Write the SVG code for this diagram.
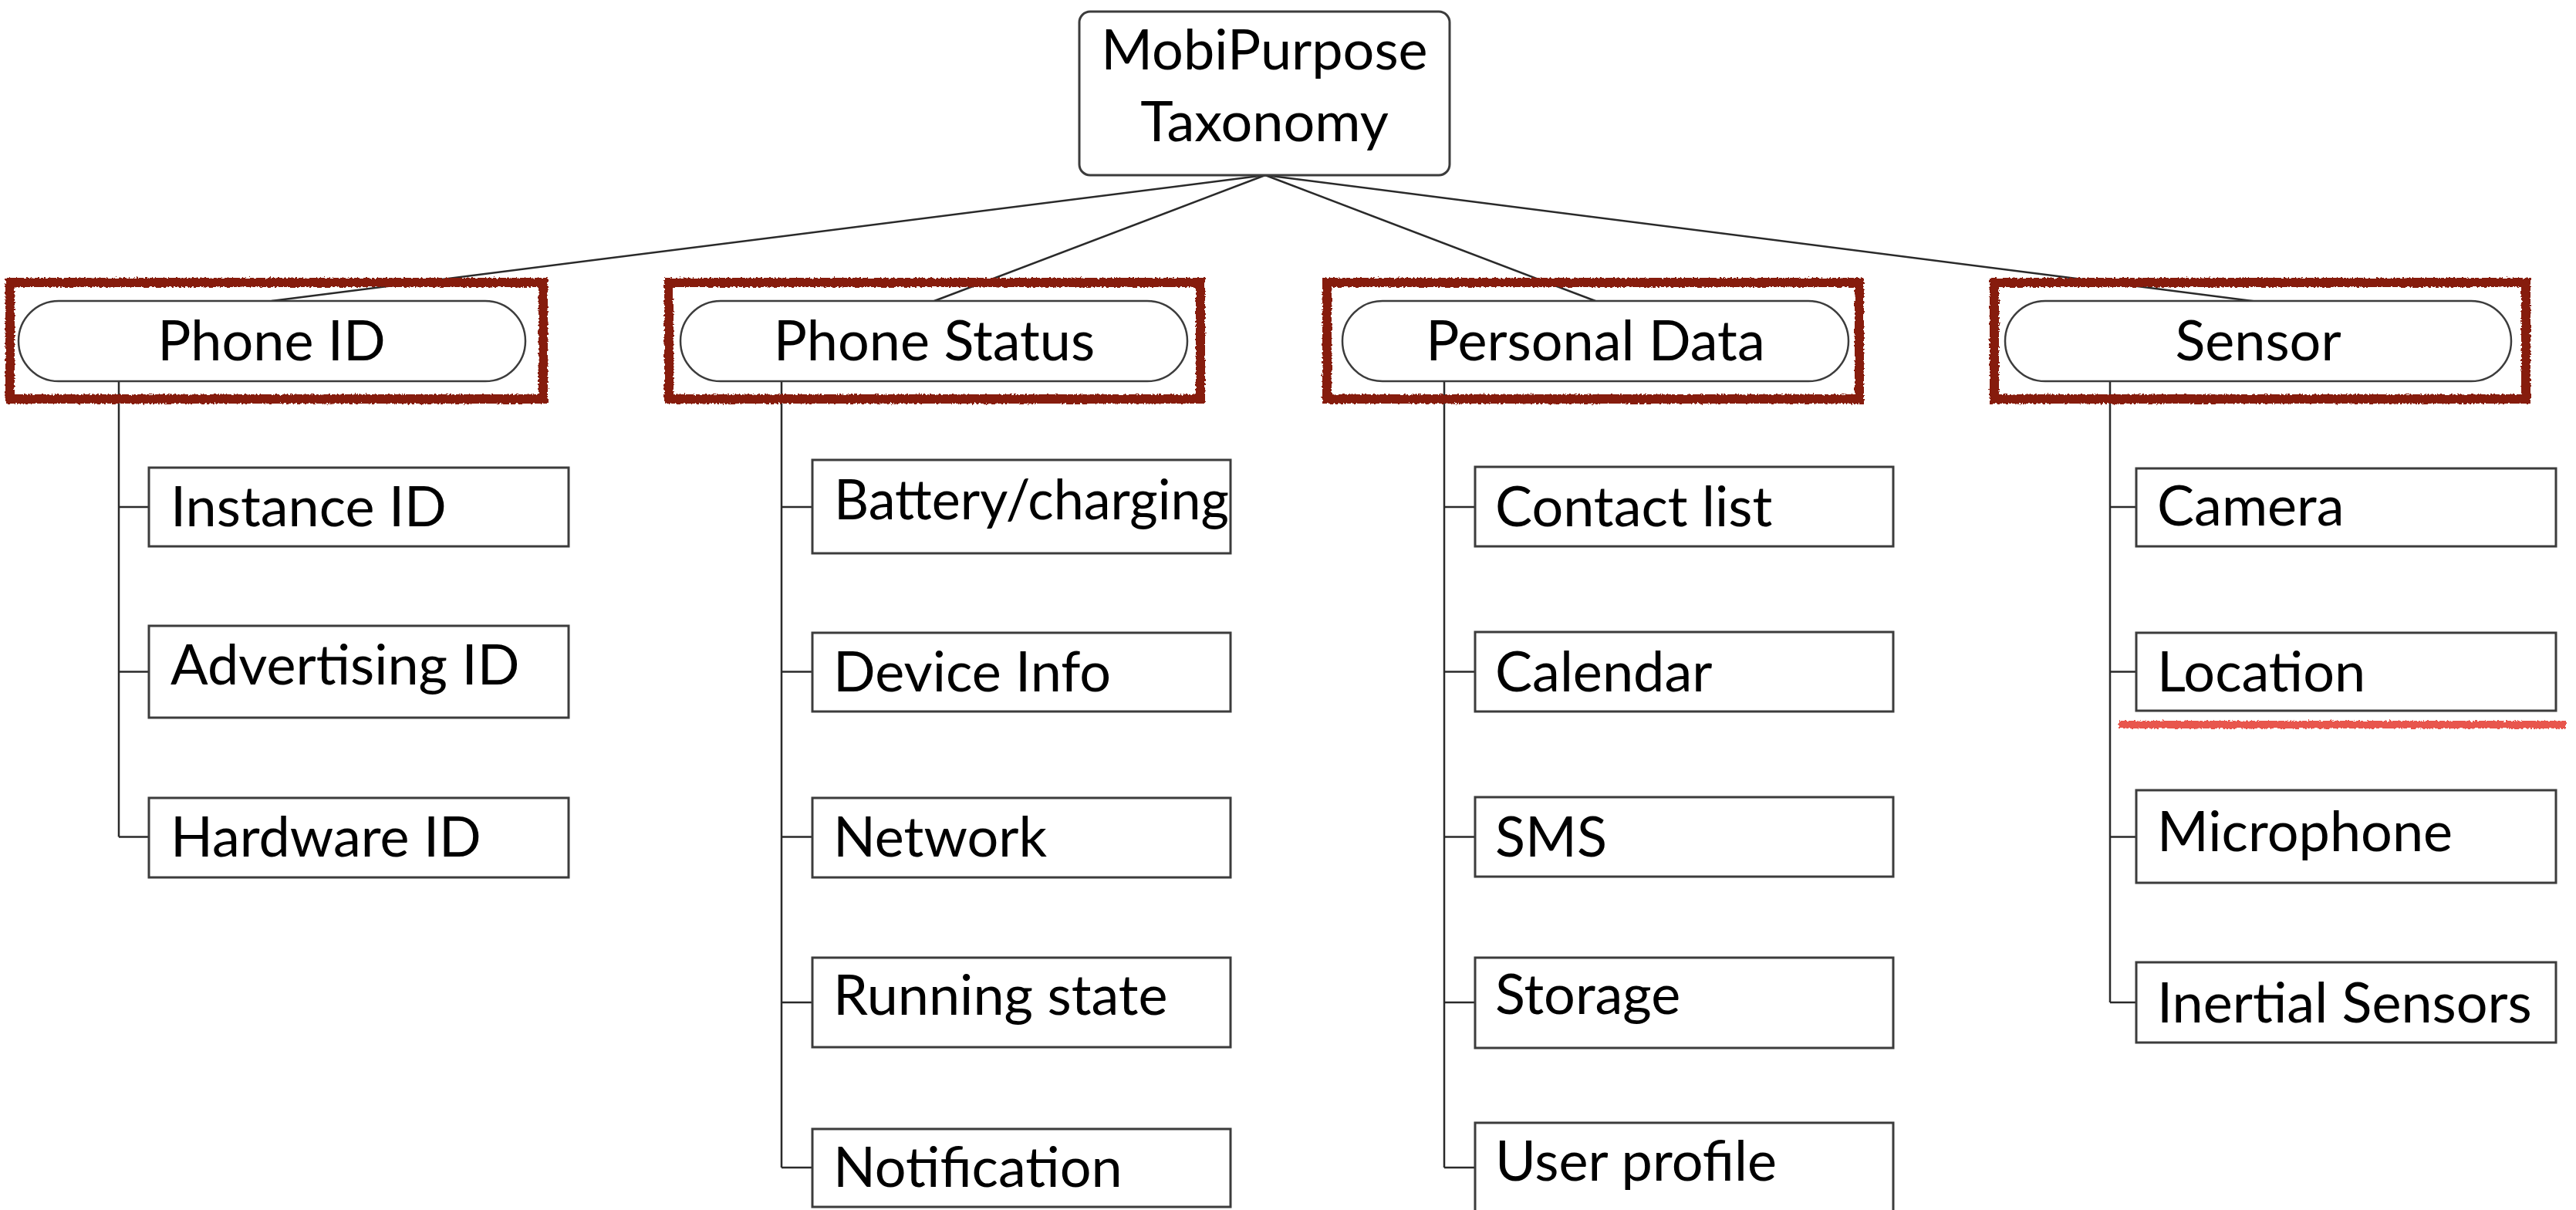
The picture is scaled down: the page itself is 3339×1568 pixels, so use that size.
<svg xmlns="http://www.w3.org/2000/svg" width="3339" height="1568" viewBox="0 0 3339 1568">
  <defs>
    <style>
      text { font-family: Lato, "Open Sans", "Liberation Sans", sans-serif; font-size: 72px; fill: #000; }
      .mid { text-anchor: middle; }
      .root { fill: #fff; stroke: #3c3c3c; stroke-width: 3; }
      .pill { fill: #fff; stroke: #3c3c3c; stroke-width: 2.5; }
      .leaf { fill: #fff; stroke: #3c3c3c; stroke-width: 3; }
      .link { fill: none; stroke: #2a2a2a; stroke-width: 2.5; }
      .mark { fill: none; stroke: #861a0e; stroke-width: 12; filter: url(#rough); }
      .squiggle { fill: none; stroke: #e8574d; stroke-width: 10; filter: url(#rough); }
    </style>
    <!-- rough, hand-drawn edge for the highlight strokes -->
    <filter id="rough" filterUnits="userSpaceOnUse" x="0" y="0" width="3339" height="1568">
      <feTurbulence type="fractalNoise" baseFrequency="0.35" numOctaves="2" seed="3" result="noise"/>
      <feDisplacementMap in="SourceGraphic" in2="noise" scale="5" xChannelSelector="R" yChannelSelector="G"/>
    </filter>
  </defs>

  <!-- connectors -->
  <g id="connectors" class="link">
    <!-- root to categories -->
    <line x1="1640" y1="227" x2="352" y2="390"/>
    <line x1="1640" y1="227" x2="1211" y2="390"/>
    <line x1="1640" y1="227" x2="2068" y2="390"/>
    <line x1="1640" y1="227" x2="2927" y2="391"/>
    <!-- Phone ID branch -->
    <path d="M154 494 V1084.5 M154 657 H193 M154 870.5 H193 M154 1084.5 H193"/>
    <!-- Phone Status branch -->
    <path d="M1013 494 V1513 M1013 657 H1053 M1013 870.5 H1053 M1013 1084.5 H1053 M1013 1299 H1053 M1013 1513 H1053"/>
    <!-- Personal Data branch -->
    <path d="M1872 494 V1513 M1872 657 H1912 M1872 870.5 H1912 M1872 1084.5 H1912 M1872 1299 H1912 M1872 1513 H1912"/>
    <!-- Sensor branch -->
    <path d="M2735 494 V1299 M2735 657 H2769 M2735 870.5 H2769 M2735 1084.5 H2769 M2735 1299 H2769"/>
  </g>

  <!-- root -->
  <g id="root">
    <rect class="root" x="1399" y="15" width="480" height="212" rx="14"/>
    <text class="mid" x="1639" y="90">MobiPurpose</text>
    <text class="mid" x="1639" y="183">Taxonomy</text>
  </g>

  <!-- categories -->
  <g id="cat-phone-id">
    <rect class="pill" x="24" y="390" width="657" height="104" rx="52"/>
    <text class="mid" x="352" y="467">Phone ID</text>
    <rect class="mark" x="13" y="366" width="691" height="151"/>
  </g>
  <g id="cat-phone-status">
    <rect class="pill" x="882" y="390" width="657" height="104" rx="52"/>
    <text class="mid" x="1211" y="467">Phone Status</text>
    <rect class="mark" x="867" y="366" width="689" height="151"/>
  </g>
  <g id="cat-personal-data">
    <rect class="pill" x="1740" y="390" width="656" height="104" rx="52"/>
    <text class="mid" x="2068" y="467">Personal Data</text>
    <rect class="mark" x="1720" y="366" width="690" height="151"/>
  </g>
  <g id="cat-sensor">
    <rect class="pill" x="2599" y="390" width="656" height="104" rx="52"/>
    <text class="mid" x="2927" y="467">Sensor</text>
    <rect class="mark" x="2585" y="366" width="689" height="151"/>
  </g>

  <!-- Phone ID leaves -->
  <g id="leaf-instance-id">
    <rect class="leaf" x="193" y="606" width="544" height="102"/>
    <text x="221" y="682">Instance ID</text>
  </g>
  <g id="leaf-advertising-id">
    <rect class="leaf" x="193" y="811" width="544" height="119"/>
    <text x="221" y="887">Advertising ID</text>
  </g>
  <g id="leaf-hardware-id">
    <rect class="leaf" x="193" y="1034" width="544" height="103"/>
    <text x="221" y="1110">Hardware ID</text>
  </g>

  <!-- Phone Status leaves -->
  <g id="leaf-battery">
    <rect class="leaf" x="1053" y="596" width="542" height="121"/>
    <text x="1081" y="673" textLength="512" lengthAdjust="spacingAndGlyphs">Battery/charging</text>
  </g>
  <g id="leaf-device-info">
    <rect class="leaf" x="1053" y="820" width="542" height="102"/>
    <text x="1080" y="896">Device Info</text>
  </g>
  <g id="leaf-network">
    <rect class="leaf" x="1053" y="1034" width="542" height="103"/>
    <text x="1080" y="1110">Network</text>
  </g>
  <g id="leaf-running-state">
    <rect class="leaf" x="1053" y="1241" width="542" height="116"/>
    <text x="1080" y="1315">Running state</text>
  </g>
  <g id="leaf-notification">
    <rect class="leaf" x="1053" y="1463" width="542" height="101"/>
    <text x="1080" y="1538">Notification</text>
  </g>

  <!-- Personal Data leaves -->
  <g id="leaf-contact-list">
    <rect class="leaf" x="1912" y="605" width="542" height="103"/>
    <text x="1938" y="682">Contact list</text>
  </g>
  <g id="leaf-calendar">
    <rect class="leaf" x="1912" y="819" width="542" height="103"/>
    <text x="1938" y="896">Calendar</text>
  </g>
  <g id="leaf-sms">
    <rect class="leaf" x="1912" y="1033" width="542" height="103"/>
    <text x="1938" y="1110">SMS</text>
  </g>
  <g id="leaf-storage">
    <rect class="leaf" x="1912" y="1241" width="542" height="117"/>
    <text x="1938" y="1314">Storage</text>
  </g>
  <g id="leaf-user-profile">
    <rect class="leaf" x="1912" y="1455" width="542" height="116"/>
    <text x="1938" y="1530">User profile</text>
  </g>

  <!-- Sensor leaves -->
  <g id="leaf-camera">
    <rect class="leaf" x="2769" y="607" width="544" height="101"/>
    <text x="2796" y="681">Camera</text>
  </g>
  <g id="leaf-location">
    <rect class="leaf" x="2769" y="820" width="544" height="101"/>
    <text x="2796" y="896">Location</text>
    <line class="squiggle" x1="2746" y1="939" x2="3326" y2="939"/>
  </g>
  <g id="leaf-microphone">
    <rect class="leaf" x="2769" y="1024" width="544" height="120"/>
    <text x="2796" y="1103">Microphone</text>
  </g>
  <g id="leaf-inertial">
    <rect class="leaf" x="2769" y="1247" width="544" height="104"/>
    <text x="2796" y="1325">Inertial Sensors</text>
  </g>
</svg>
